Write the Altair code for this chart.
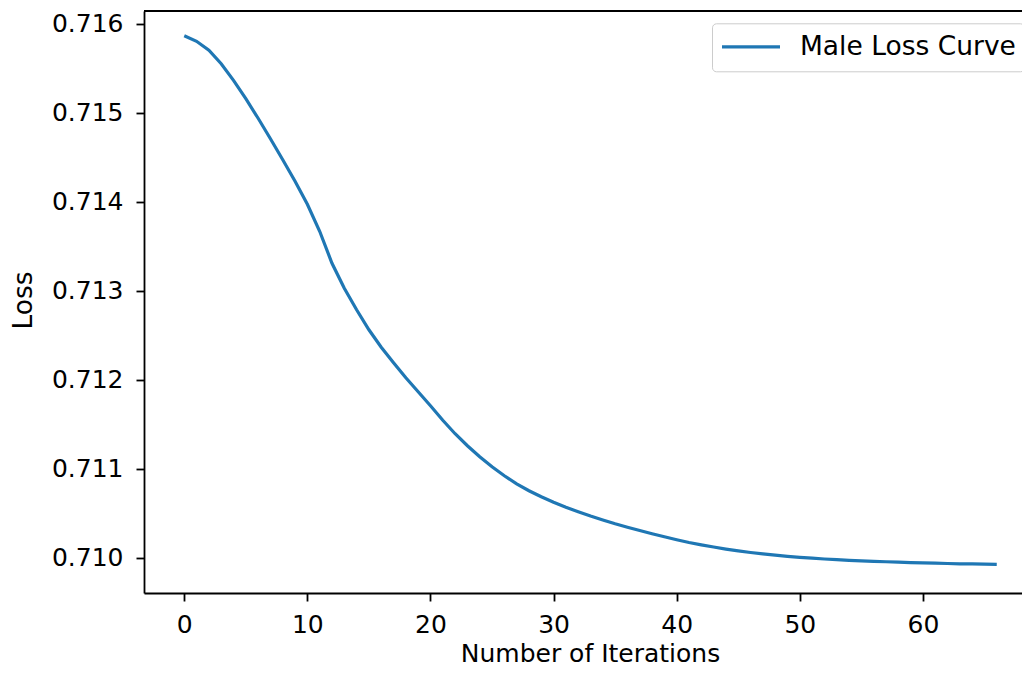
import altair as alt
import pandas as pd

iterations = list(range(67))
loss = [
    0.715863, 0.715801, 0.715700, 0.715549, 0.715363, 0.715156, 0.714937, 0.714707,
    0.714471, 0.714229, 0.713971, 0.713668, 0.713309, 0.713028, 0.712787, 0.712562,
    0.712366, 0.712192, 0.712023, 0.711866, 0.711709, 0.711546, 0.711395, 0.711260,
    0.711136, 0.711024, 0.710923, 0.710833, 0.710755, 0.710687, 0.710626, 0.710569,
    0.710519, 0.710471, 0.710427, 0.710384, 0.710345, 0.710308, 0.710272, 0.710238,
    0.710205, 0.710174, 0.710147, 0.710123, 0.710100, 0.710080, 0.710062, 0.710046,
    0.710032, 0.710019, 0.710008, 0.709998, 0.709989, 0.709981, 0.709974, 0.709968,
    0.709962, 0.709958, 0.709953, 0.709949, 0.709945, 0.709942, 0.709938, 0.709935,
    0.709933, 0.709931, 0.709928,
]
series_name = "Male Loss Curve"
x_ticks = [0, 10, 20, 30, 40, 50, 60]
y_ticks = [0.710, 0.711, 0.712, 0.713, 0.714, 0.715, 0.716]

df = pd.DataFrame({"iteration": iterations, "loss": loss, "series": [series_name] * len(loss)})

W = 878
H = 582
FONT = "DejaVu Sans"
TICK_FS = 25
TEXT_FS = 26.5
XTITLE_FS = 25

line = alt.Chart(df).mark_line(strokeWidth=3.2).encode(
    x=alt.X(
        "iteration:Q",
        scale=alt.Scale(domain=[-3.27, 68.05], nice=False, zero=False),
        axis=alt.Axis(
            values=x_ticks,
            format="d",
            title="Number of Iterations",
            titleX=446,
            titleY=60.8,
            titleBaseline="middle",
            titleAlign="center",
            titleFontSize=XTITLE_FS,
            labelPadding=11,
        ),
    ),
    y=alt.Y(
        "loss:Q",
        scale=alt.Scale(domain=[0.709607, 0.716141], nice=False, zero=False),
        axis=alt.Axis(
            values=y_ticks,
            format=".3f",
            title="Loss",
            titleAngle=270,
            titleX=-120.5,
            titleY=289,
            titleBaseline="middle",
            titleAlign="center",
            labelPadding=13,
        ),
    ),
    color=alt.Color(
        "series:N",
        scale=alt.Scale(range=["#1f77b4"]),
        legend=alt.Legend(
            title=None,
            orient="none",
            legendX=568,
            legendY=12.3,
            symbolType="stroke",
            symbolSize=3364,
            symbolStrokeWidth=3.2,
            clipHeight=31.3,
            labelFont=FONT,
            labelFontSize=TEXT_FS,
            labelColor="black",
            labelLimit=500,
            labelOffset=18,
            padding=8,
            strokeColor="#cccccc",
            fillColor="white",
            cornerRadius=4,
        ),
    ),
)

top_spine = alt.Chart(pd.DataFrame({"a": [0]})).mark_rule(color="black", strokeWidth=1.8).encode(
    x=alt.value(0), x2=alt.value(W), y=alt.value(0)
)

chart = (
    alt.layer(line, top_spine)
    .properties(
        width=W,
        height=H,
        padding={"left": 136, "top": 3, "right": 0, "bottom": 75},
        autosize=alt.AutoSizeParams(type="none"),
        background="white",
    )
    .configure_view(stroke=None)
    .configure_axis(
        grid=False,
        domainColor="black",
        domainWidth=1.8,
        tickColor="black",
        tickWidth=1.8,
        tickSize=8,
        labelFont=FONT,
        labelFontSize=TICK_FS,
        labelColor="black",
        titleFont=FONT,
        titleFontSize=TEXT_FS,
        titleFontWeight="normal",
        titleColor="black",
    )
)

chart.save("out.html", embed_options={"renderer": "svg", "actions": False})
